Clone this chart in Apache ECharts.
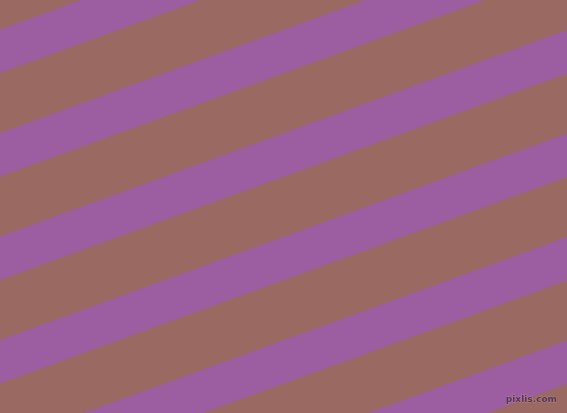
<!DOCTYPE html>
<html>
<head>
<meta charset="utf-8">
<script src="https://cdn.jsdelivr.net/npm/echarts@6/dist/echarts.min.js"></script>
<style>
	html, body { margin: 0; padding: 0; }
	#chart { width: 567px; height: 413px; }
</style>
</head>
<body>
<div id="chart"></div>
<script>
// x where the stripe edges were read (left and right border)
var xEnds = [0, 567];
// purple stripes: top / bottom edge at left border
var stripeTopLeft = [29.5, 133, 236.5, 340, 443.5, 547];
var stripeBotLeft = [73, 176.5, 280, 383.5, 487, 590.5];
// purple stripes: top / bottom edge at right border
var stripeTopRight = [-177, -73.4, 30.1, 133.6, 237.1, 340.6];
var stripeBotRight = [-133.5, -29.9, 73.6, 177.1, 280.6, 384.1];

var stripeData = [];
for (var i = 0; i < stripeTopLeft.length; i++) {
	stripeData.push([stripeTopLeft[i], stripeBotLeft[i], stripeTopRight[i], stripeBotRight[i]]);
}

var myChart = echarts.init(document.getElementById('chart'));
var option = {
	backgroundColor: '#996962',
	animation: false,
	grid: {left: 0, right: 0, top: 0, bottom: 0},
	xAxis: {type: 'value', min: xEnds[0], max: xEnds[1], show: false},
	yAxis: {type: 'value', min: 0, max: 413, inverse: true, show: false},
	title: {
		text: 'pixlis.com',
		right: 4,
		bottom: 3,
		textStyle: {
			fontFamily: 'DejaVu Sans',
			fontSize: 9,
			fontWeight: 'bold',
			color: 'rgba(75,45,65,0.9)',
			textBorderColor: 'rgba(200,160,180,0.5)',
			textBorderWidth: 1
		}
	},
	series: [{
		type: 'custom',
		clip: true,
		data: stripeData,
		renderItem: function(params, api) {
			var p1 = api.coord([xEnds[0], api.value(0)]);
			var p2 = api.coord([xEnds[1], api.value(2)]);
			var p3 = api.coord([xEnds[1], api.value(3)]);
			var p4 = api.coord([xEnds[0], api.value(1)]);
			return {
				type: 'polygon',
				shape: {points: [p1, p2, p3, p4]},
				style: {fill: '#9d5ea1'}
			};
		}
	}]
};
myChart.setOption(option);
</script>
</body>
</html>
